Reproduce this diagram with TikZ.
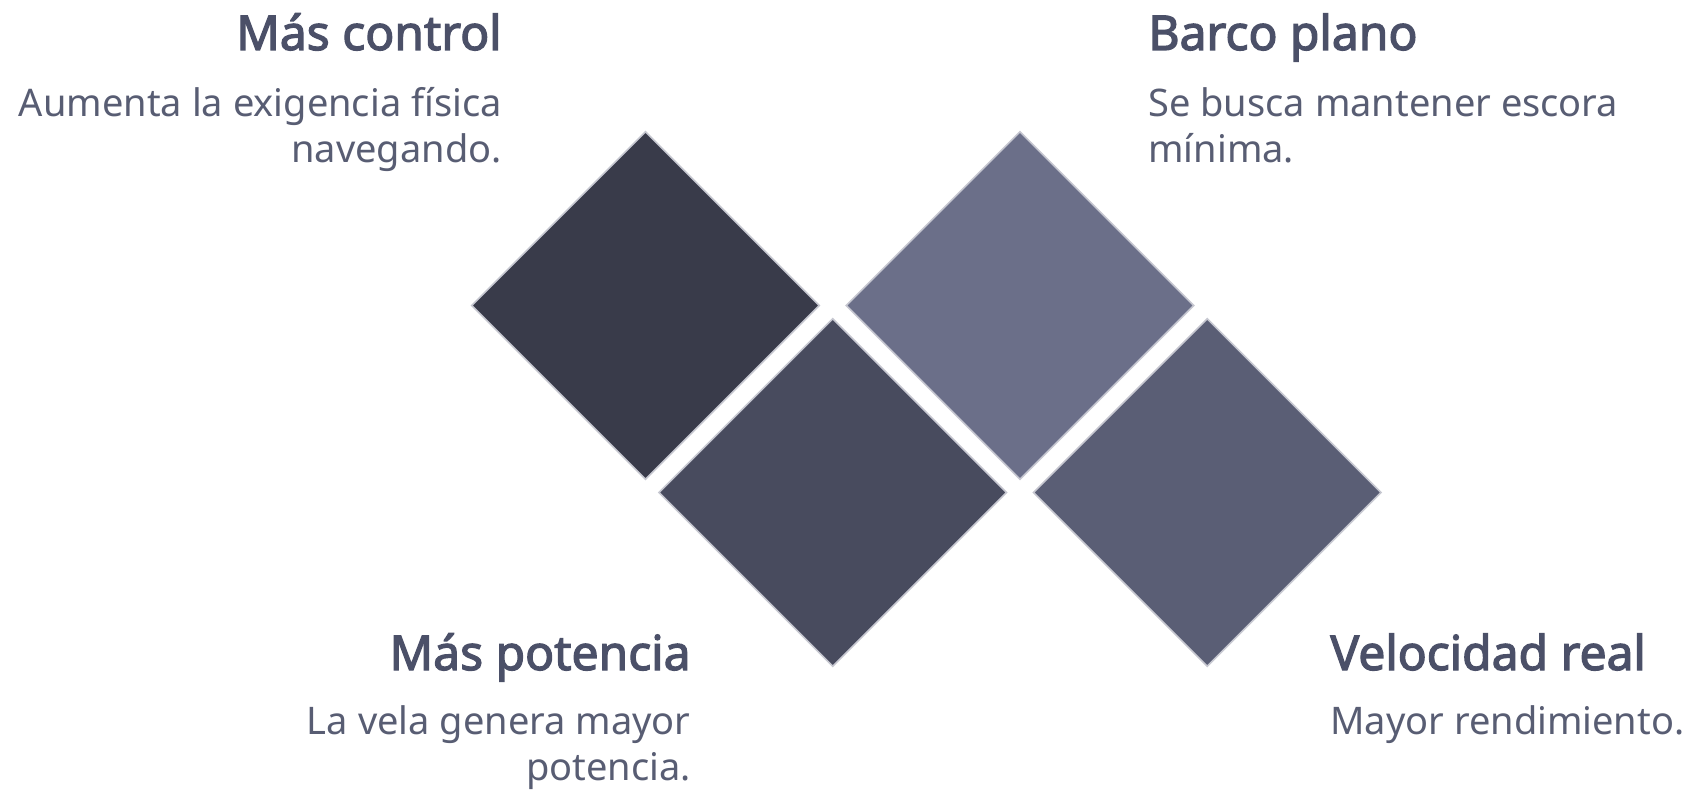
\documentclass[tikz,border=0pt]{standalone}
\usepackage{fontspec}
\setmainfont{Noto Sans}[BoldFont={Noto Sans},BoldFeatures={FakeBold=2.6}]
\usetikzlibrary{shapes.geometric}
\definecolor{tileA}{HTML}{393B4A}
\definecolor{tileB}{HTML}{484B5E}
\definecolor{tileC}{HTML}{6B6F89}
\definecolor{tileD}{HTML}{5A5E75}
\definecolor{tileedge}{HTML}{C6C7D0}
\definecolor{headcol}{HTML}{4B5068}
\definecolor{textcol}{HTML}{585D73}

\begin{document}
\begin{tikzpicture}[x=0.5pt,y=-0.5pt,
	tile/.style={diamond,draw=tileedge,line width=0.8pt,inner sep=0pt,
		minimum width=174pt,minimum height=174pt},
	head/.style={text=headcol,inner sep=0pt,font=\fontsize{24}{28}\selectfont\bfseries},
	desc/.style={text=textcol,inner sep=0pt,font=\fontsize{19}{23}\selectfont}]
\useasboundingbox[fill=white] (0,0) rectangle (1685,790);
% the four tiles
\node[tile,fill=tileA] (control) at (645.5,305.5) {};
\node[tile,fill=tileB] (potencia) at (832.75,492.5) {};
\node[tile,fill=tileC] (plano) at (1020,305.5) {};
\node[tile,fill=tileD] (velocidad) at (1207.25,492.5) {};
% labels (base = last line)
\node[head,anchor=base east] (control-h) at (502,50) {Más control};
\node[desc,anchor=base east,align=right] (control-d) at (502,163) {Aumenta la exigencia física\\navegando.};
\node[head,anchor=base west] (plano-h) at (1148,50) {Barco plano};
\node[desc,anchor=base west,align=left] (plano-d) at (1148,163) {Se busca mantener escora\\mínima.};
\node[head,anchor=base east] (potencia-h) at (691,670) {Más potencia};
\node[desc,anchor=base east,align=right] (potencia-d) at (691,780) {La vela genera mayor\\potencia.};
\node[head,anchor=base west] (velocidad-h) at (1330,670) {Velocidad real};
\node[desc,anchor=base west,align=left] (velocidad-d) at (1330,734) {Mayor rendimiento.};
\end{tikzpicture}
\end{document}
